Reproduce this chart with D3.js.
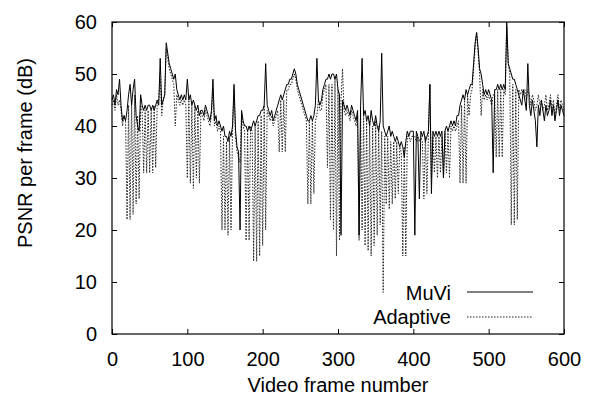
<!DOCTYPE html>
<html>
<head>
<meta charset="utf-8">
<script src="https://cdn.jsdelivr.net/npm/d3@7"></script>
<style>
  html, body { margin: 0; padding: 0; background: #fff; }
  text { font-family: "Liberation Sans", Arial, Helvetica, sans-serif; fill: #000; }
</style>
</head>
<body>
<svg id="chart" width="593" height="412"></svg>
<script>
// ---- data (PSNR per frame, sampled every 2 frames from 0 to 600) ----
const frameStep = 2;
const muviValues = [
  45, 46, 44, 47, 46, 49, 44, 41, 42, 41,
  43, 46, 48, 44, 47, 49, 42, 40, 39, 46,
  44, 43, 44, 43, 44, 44, 43, 44, 43, 44,
  45, 44, 53, 44, 45, 46, 56, 54, 52, 51,
  50, 49, 50, 47, 46, 45, 46, 45, 46, 45,
  49, 45, 46, 44, 45, 44, 43, 44, 42, 43,
  43, 42, 44, 43, 42, 41, 43, 49, 41, 42,
  40, 41, 40, 39, 40, 38, 38, 37, 39, 38,
  40, 48, 39, 36, 35, 20, 43, 41, 40, 40,
  39, 40, 39, 40, 41, 40, 41, 42, 42, 43,
  43, 44, 52, 44, 43, 42, 43, 41, 42, 43,
  44, 45, 46, 45, 46, 47, 48, 48, 49, 49,
  50, 51, 50, 48, 47, 46, 45, 44, 43, 42,
  41, 41, 42, 41, 42, 44, 53, 45, 44, 45,
  47, 48, 49, 49, 50, 49, 50, 50, 49, 50,
  47, 46, 19, 45, 44, 43, 44, 43, 42, 44,
  43, 42, 41, 43, 19, 44, 53, 42, 43, 41,
  42, 40, 43, 41, 40, 42, 40, 39, 41, 54,
  40, 39, 38, 39, 40, 38, 39, 38, 37, 38,
  37, 36, 37, 36, 34, 37, 39, 38, 39, 39,
  39, 19, 39, 38, 26, 39, 38, 39, 37, 38,
  39, 48, 27, 39, 38, 39, 38, 39, 38, 39,
  30, 39, 40, 39, 40, 41, 40, 41, 40, 42,
  42, 44, 45, 46, 45, 47, 46, 47, 48, 48,
  52, 56, 58, 55, 51, 50, 48, 46, 47, 46,
  47, 46, 45, 31, 47, 47, 48, 47, 48, 47,
  48, 47, 60, 52, 51, 50, 49, 49, 48, 47,
  46, 45, 44, 47, 45, 43, 52, 44, 42, 45,
  43, 41, 36, 44, 42, 45, 43, 41, 44, 42,
  43, 45, 42, 44, 41, 43, 45, 42, 44, 43,
  42
];
const adaptiveValues = [
  44, 45, 43, 46, 44, 45, 43, 40, 42, 41,
  22, 44, 22, 45, 23, 46, 25, 42, 26, 44,
  43, 31, 43, 31, 43, 31, 43, 31, 44, 32,
  44, 45, 49, 42, 45, 46, 55, 53, 51, 50,
  49, 48, 40, 46, 45, 44, 45, 44, 45, 44,
  30, 45, 29, 44, 28, 44, 30, 43, 29, 43,
  42, 41, 43, 42, 41, 40, 42, 47, 40, 41,
  39, 40, 39, 20, 38, 20, 37, 19, 38, 20,
  39, 47, 38, 35, 34, 33, 42, 40, 39, 18,
  39, 18, 40, 39, 14, 40, 14, 41, 15, 42,
  17, 44, 20, 43, 42, 41, 42, 40, 41, 42,
  43, 35, 45, 35, 45, 35, 47, 47, 48, 48,
  49, 50, 49, 47, 46, 45, 44, 43, 42, 41,
  25, 41, 25, 41, 27, 41, 42, 45, 43, 43,
  46, 47, 48, 32, 48, 22, 48, 20, 49, 15,
  47, 18, 45, 51, 43, 42, 43, 42, 41, 43,
  42, 41, 40, 42, 18, 43, 20, 42, 17, 41,
  16, 41, 15, 40, 17, 41, 19, 40, 21, 39,
  8, 38, 25, 38, 24, 37, 25, 37, 26, 37,
  27, 36, 35, 15, 36, 15, 38, 38, 37, 38,
  38, 38, 37, 38, 37, 38, 37, 26, 38, 27,
  38, 48, 30, 38, 31, 38, 30, 38, 31, 38,
  30, 39, 31, 39, 30, 40, 39, 40, 39, 40,
  41, 29, 44, 29, 45, 29, 46, 42, 46, 47,
  51, 55, 58, 54, 50, 42, 47, 45, 46, 45,
  46, 45, 44, 46, 46, 34, 47, 34, 47, 34,
  47, 46, 59, 52, 50, 21, 48, 21, 47, 22,
  47, 46, 47, 46, 47, 45, 47, 46, 44, 46,
  45, 43, 44, 46, 44, 45, 43, 44, 46, 43,
  44, 46, 43, 45, 42, 44, 46, 43, 45, 44,
  43
];
const seriesNames = ["MuVi", "Adaptive"];
const xTicks = [0, 100, 200, 300, 400, 500, 600];
const yTicks = [0, 10, 20, 30, 40, 50, 60];
const xTitle = "Video frame number";
const yTitle = "PSNR per frame (dB)";

// ---- layout ----
const M = { left: 112, right: 564, top: 22, bottom: 334 };
const svg = d3.select("#chart");
const x = d3.scaleLinear().domain([0, 600]).range([M.left, M.right]);
const y = d3.scaleLinear().domain([0, 60]).range([M.bottom, M.top]);

const tickLen = 5;
const gx = svg.append("g").attr("transform", `translate(0,${M.bottom})`)
  .call(d3.axisBottom(x).tickValues(xTicks).tickSizeInner(-tickLen).tickSizeOuter(0).tickPadding(14));
const gxt = svg.append("g").attr("transform", `translate(0,${M.top})`)
  .call(d3.axisTop(x).tickValues(xTicks).tickSizeInner(-tickLen).tickSizeOuter(0).tickFormat(""));
const gy = svg.append("g").attr("transform", `translate(${M.left},0)`)
  .call(d3.axisLeft(y).tickValues(yTicks).tickSizeInner(-tickLen).tickSizeOuter(0).tickPadding(14));
const gyr = svg.append("g").attr("transform", `translate(${M.right},0)`)
  .call(d3.axisRight(y).tickValues(yTicks).tickSizeInner(-tickLen).tickSizeOuter(0).tickFormat(""));

[gx, gxt, gy, gyr].forEach(g => {
  g.select(".domain").remove();
  g.selectAll(".tick line").attr("stroke", "#000").attr("stroke-width", 1);
  g.selectAll(".tick text").attr("font-size", 20).attr("font-family", "Liberation Sans, Arial, sans-serif").attr("fill", "#000");
});
gx.selectAll(".tick text").attr("dy", "0.71em").attr("y", 18);
gy.selectAll(".tick text").attr("x", -15);

const line = d3.line().x((d, i) => x(i * frameStep)).y(d => y(d));
svg.append("path").datum(adaptiveValues)
  .attr("fill", "none").attr("stroke", "#222").attr("stroke-width", 1)
  .attr("stroke-dasharray", "1.5,1.5").attr("d", line);
svg.append("path").datum(muviValues)
  .attr("fill", "none").attr("stroke", "#000").attr("stroke-width", 1)
  .attr("d", line);

svg.append("rect").attr("x", M.left).attr("y", M.top)
  .attr("width", M.right - M.left).attr("height", M.bottom - M.top)
  .attr("fill", "none").attr("stroke", "#000").attr("stroke-width", 1.2);

const legendRows = [
  { name: seriesNames[0], dash: null, ty: 300, ly: 292 },
  { name: seriesNames[1], dash: "1.5,1.5", ty: 324, ly: 317 }
];
legendRows.forEach(r => {
  svg.append("text").attr("x", 451).attr("y", r.ty).attr("text-anchor", "end")
    .attr("font-size", 20).text(r.name);
  svg.append("line").attr("x1", 467).attr("x2", 533).attr("y1", r.ly).attr("y2", r.ly)
    .attr("stroke", r.dash ? "#222" : "#000").attr("stroke-width", 1.1)
    .attr("stroke-dasharray", r.dash);
});

svg.append("text").attr("x", (M.left + M.right) / 2).attr("y", 392)
  .attr("text-anchor", "middle").attr("font-size", 20).text(xTitle);
svg.append("text").attr("transform", "translate(32,153) rotate(-90)")
  .attr("text-anchor", "middle").attr("font-size", 20).text(yTitle);
</script>
</body>
</html>
